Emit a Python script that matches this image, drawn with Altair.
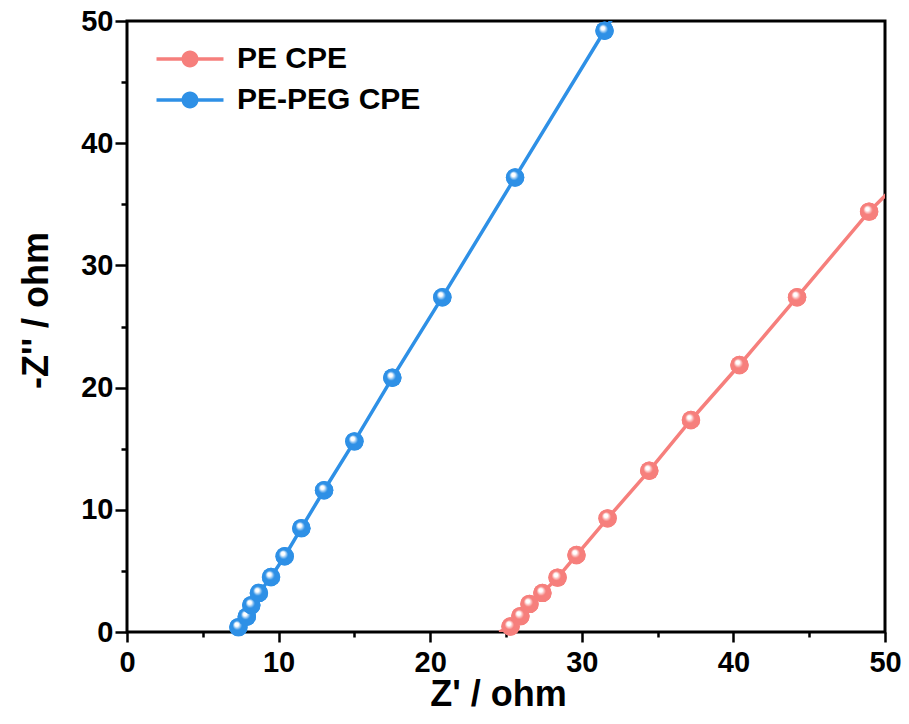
import altair as alt
import pandas as pd

# ---- data ----
pe_x = [25.3, 25.95, 26.55, 27.4, 28.4, 29.65, 31.7, 34.45, 37.2, 40.4, 44.2, 48.95]
pe_y = [0.45, 1.3, 2.3, 3.2, 4.45, 6.3, 9.3, 13.2, 17.35, 21.85, 27.4, 34.4]
peg_x = [7.35, 7.9, 8.2, 8.7, 9.5, 10.4, 11.5, 13.0, 15.0, 17.5, 20.8, 25.6, 31.5]
peg_y = [0.4, 1.25, 2.2, 3.2, 4.5, 6.2, 8.5, 11.6, 15.6, 20.8, 27.4, 37.2, 49.2]
# fitted line end points (line continues past the markers)
pe_line_start = (24.55, 0.0)
pe_line_end = (50.4, 36.2)
peg_line_start = (6.95, 0.0)
peg_line_end = (32.1, 50.4)

series_names = ["PE CPE", "PE-PEG CPE"]
series_colors = ["#F67F7C", "#2E90E6"]
x_ticks = [0, 5, 10, 15, 20, 25, 30, 35, 40, 45, 50]
y_ticks = [0, 5, 10, 15, 20, 25, 30, 35, 40, 45, 50]

pts = pd.DataFrame({
    "x": pe_x + peg_x,
    "y": pe_y + peg_y,
    "s": [series_names[0]] * len(pe_x) + [series_names[1]] * len(peg_x),
})
line_pe_x = [pe_line_start[0]] + pe_x + [pe_line_end[0]]
line_pe_y = [pe_line_start[1]] + pe_y + [pe_line_end[1]]
line_peg_x = [peg_line_start[0]] + peg_x + [peg_line_end[0]]
line_peg_y = [peg_line_start[1]] + peg_y + [peg_line_end[1]]
lines = pd.DataFrame({
    "x": line_pe_x + line_peg_x,
    "y": line_pe_y + line_peg_y,
    "s": [series_names[0]] * len(line_pe_x) + [series_names[1]] * len(line_peg_x),
    "o": list(range(len(line_pe_x))) + list(range(len(line_peg_x))),
})

W, H = 758, 611
FONT = "Liberation Sans"

xscale = alt.Scale(domain=[0, 50], nice=False, zero=False)
yscale = alt.Scale(domain=[0, 50], nice=False, zero=False)
color_scale = alt.Scale(domain=series_names, range=series_colors)

minor_test = "datum.value % 10 != 0"
label_expr = "datum.value % 10 == 0 ? datum.label : ''"

xaxis = alt.Axis(values=x_ticks, title="Z' / ohm", grid=False, ticks=True,
                 tickSize={"condition": {"test": minor_test, "value": 5}, "value": 10},
                 tickWidth=2.5, tickColor="black", labelExpr=label_expr,
                 domain=False, labelFont=FONT, labelFontWeight="bold", labelFontSize=29,
                 labelColor="black", labelPadding=6, labelFlush=False, labelOverlap=False,
                 titleFont=FONT, titleFontWeight="bold", titleFontSize=36, titleColor="black",
                 titleBaseline="alphabetic", titleY=73, titleX=371, titleAlign="center")
yaxis = alt.Axis(values=y_ticks, title="-Z'' / ohm", grid=False, ticks=True,
                 tickSize={"condition": {"test": minor_test, "value": 6}, "value": 12},
                 tickWidth=2.5, tickColor="black", labelExpr=label_expr,
                 domain=False, labelFont=FONT, labelFontWeight="bold", labelFontSize=29,
                 labelColor="black", labelPadding=2, labelFlush=False, labelOverlap=False,
                 titleFont=FONT, titleFontWeight="bold", titleFontSize=36, titleColor="black",
                 titleAngle=-90, titleBaseline="alphabetic", titleX=-80, titleY=289,
                 titleAlign="center")

legend_path = ("M-3.94,-0.2 L3.94,-0.2 L3.94,0.2 L-3.94,0.2 Z "
               "M-1,0 A1,1 0 1,1 1,0 A1,1 0 1,1 -1,0 Z")
legend = alt.Legend(title=None, orient="none", legendX=48, legendY=23, symbolType=legend_path,
                    symbolSize=289, symbolStrokeWidth=0, symbolOpacity=1, labelOffset=32,
                    labelFont=FONT, labelFontWeight="bold", labelFontSize=30, labelColor="black",
                    rowPadding=11, padding=0, labelLimit=400)

base_pts = alt.Chart(pts).mark_circle(size=340, opacity=1).encode(
    x=alt.X("x:Q", scale=xscale, axis=xaxis),
    y=alt.Y("y:Q", scale=yscale, axis=yaxis),
    color=alt.Color("s:N", scale=color_scale, legend=legend),
)

line_layer = alt.Chart(lines).mark_line(strokeWidth=3.5, clip=True).encode(
    x=alt.X("x:Q", scale=xscale),
    y=alt.Y("y:Q", scale=yscale),
    stroke=alt.Stroke("s:N", scale=color_scale, legend=None),
    order="o:Q",
)


def sphere(name, col):
    grad = {
        "gradient": "radial",
        "x1": 0.38, "y1": 0.32, "r1": 0.0,
        "x2": 0.5, "y2": 0.5, "r2": 0.5,
        "stops": [
            {"offset": 0.0, "color": "#FFFFFF"},
            {"offset": 0.2, "color": "#FFFFFF"},
            {"offset": 0.5, "color": col},
            {"offset": 1.0, "color": col},
        ],
    }
    return alt.Chart(pts).transform_filter(alt.datum.s == name).mark_point(
        shape="circle", filled=True, fill=grad, size=340, strokeWidth=0, opacity=1
    ).encode(
        x=alt.X("x:Q", scale=xscale),
        y=alt.Y("y:Q", scale=yscale),
    )


chart = alt.layer(
    base_pts, line_layer, sphere(series_names[0], series_colors[0]),
    sphere(series_names[1], series_colors[1]),
).properties(
    width=W, height=H,
    autosize=alt.AutoSizeParams(type="none"),
    padding={"left": 127, "top": 21, "right": 909 - 127 - W, "bottom": 724 - 21 - H},
    background="white",
).configure_view(
    stroke="black", strokeWidth=3,
)

chart.save("out.html", embed_options={"renderer": "svg", "actions": False})
